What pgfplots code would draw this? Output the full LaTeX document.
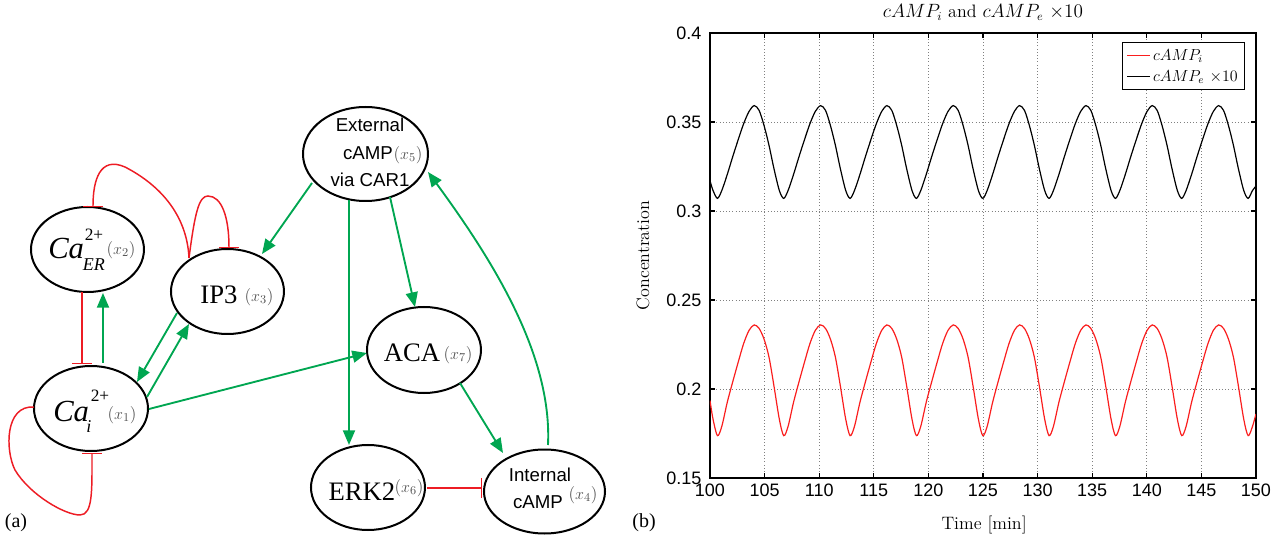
\documentclass[border=0pt]{standalone}
\usepackage{pgfplots}
\pgfplotsset{compat=1.18}
\usepackage{fontspec}
\usetikzlibrary{arrows.meta}
\newfontfamily\helv{Liberation Sans}
\newfontfamily\tms{Liberation Serif}
\definecolor{dgreen}{RGB}{0,166,81}
\definecolor{dred}{RGB}{237,28,36}
\definecolor{pred}{RGB}{250,30,30}
\definecolor{xgray}{RGB}{80,80,80}
\begin{document}
\begin{tikzpicture}[x=0.75pt,y=0.75pt]
% ---------------- (b) time series ----------------
\begin{axis}[
  name=ax, scale only axis,
  width=409.5pt, height=333.75pt,
  xmin=100, xmax=150, ymin=0.15, ymax=0.4,
  xtick={100,105,110,115,120,125,130,135,140,145,150},
  ytick={0.15,0.2,0.25,0.3,0.35,0.4},
  xticklabels={100,105,110,115,120,125,130,135,140,145,150},
  yticklabels={0.15,0.2,0.25,0.3,0.35,0.4},
  tick align=inside, tick pos=both, major tick length=4pt,
  every tick/.style={black, line width=0.8pt},
  axis line style={line width=1.1pt},
  grid=major, major grid style={dotted, gray, line width=0.7pt},
  ticklabel style={font=\helv\fontsize{13.5}{16}\selectfont},
  yticklabel style={xshift=-3pt},
  xticklabel style={yshift=-1pt},
  title={$cAMP_i$ and $cAMP_e$ $\times 10$},
  title style={at={(axis description cs:0.5,1.029)}, anchor=center, yshift=0pt, inner sep=0pt, font=\fontsize{13.5}{16}\selectfont},
  xlabel={Time [min]},
  xlabel style={at={(axis description cs:0.502,-0.1056)}, anchor=center, inner sep=0pt, font=\fontsize{13.5}{16}\selectfont},
  ylabel={Concentration},
  ylabel style={at={(axis description cs:-0.1227,0.5)}, anchor=center, inner sep=0pt, font=\fontsize{13.5}{16}\selectfont},
  legend style={at={(axis description cs:0.98,0.98)}, anchor=north east, draw=black, line width=1pt, font=\fontsize{12}{14}\selectfont, row sep=2pt, inner sep=3pt},
  legend image post style={line width=0.9pt},
  legend cell align=left,
]
\coordinate (R) at (rel axis cs:0,0);
\addplot[color=pred, line width=0.9pt, smooth] coordinates {
(100.00,0.1935) (100.28,0.1830) (100.68,0.1738) (101.08,0.1790) (101.58,0.1925) (102.08,0.2040) (102.58,0.2150) (103.08,0.2255) (103.58,0.2330)
(104.05,0.2360) (104.50,0.2340) (104.95,0.2280) (105.40,0.2180) (105.85,0.2020) (106.35,0.1830) (106.75,0.1738) (107.15,0.1790) (107.65,0.1925) (108.15,0.2040) (108.65,0.2150) (109.15,0.2255) (109.65,0.2330)
(110.13,0.2360) (110.58,0.2340) (111.03,0.2280) (111.48,0.2180) (111.93,0.2020) (112.43,0.1830) (112.83,0.1738) (113.23,0.1790) (113.73,0.1925) (114.23,0.2040) (114.73,0.2150) (115.23,0.2255) (115.73,0.2330)
(116.20,0.2360) (116.65,0.2340) (117.10,0.2280) (117.55,0.2180) (118.00,0.2020) (118.50,0.1830) (118.90,0.1738) (119.30,0.1790) (119.80,0.1925) (120.30,0.2040) (120.80,0.2150) (121.30,0.2255) (121.80,0.2330)
(122.28,0.2360) (122.73,0.2340) (123.18,0.2280) (123.63,0.2180) (124.08,0.2020) (124.58,0.1830) (124.98,0.1738) (125.38,0.1790) (125.88,0.1925) (126.38,0.2040) (126.88,0.2150) (127.38,0.2255) (127.88,0.2330)
(128.35,0.2360) (128.80,0.2340) (129.25,0.2280) (129.70,0.2180) (130.15,0.2020) (130.65,0.1830) (131.05,0.1738) (131.45,0.1790) (131.95,0.1925) (132.45,0.2040) (132.95,0.2150) (133.45,0.2255) (133.95,0.2330)
(134.43,0.2360) (134.88,0.2340) (135.33,0.2280) (135.78,0.2180) (136.23,0.2020) (136.73,0.1830) (137.13,0.1738) (137.53,0.1790) (138.03,0.1925) (138.53,0.2040) (139.03,0.2150) (139.53,0.2255) (140.03,0.2330)
(140.50,0.2360) (140.95,0.2340) (141.40,0.2280) (141.85,0.2180) (142.30,0.2020) (142.80,0.1830) (143.20,0.1738) (143.60,0.1790) (144.10,0.1925) (144.60,0.2040) (145.10,0.2150) (145.60,0.2255) (146.10,0.2330)
(146.58,0.2360) (147.03,0.2340) (147.48,0.2280) (147.93,0.2180) (148.38,0.2020) (148.88,0.1830) (149.28,0.1738) (149.68,0.1790) (150.00,0.1860)
};
\addlegendentry{$cAMP_i$}
\addplot[color=black, line width=0.9pt, smooth] coordinates {
(100.00,0.3170) (100.28,0.3115) (100.68,0.3071) (101.08,0.3115) (101.58,0.3205) (102.08,0.3305) (102.58,0.3400) (103.08,0.3490) (103.58,0.3560)
(104.05,0.3592) (104.50,0.3565) (104.95,0.3480) (105.40,0.3370) (105.85,0.3240) (106.35,0.3115) (106.75,0.3071) (107.15,0.3115) (107.65,0.3205) (108.15,0.3305) (108.65,0.3400) (109.15,0.3490) (109.65,0.3560)
(110.13,0.3592) (110.58,0.3565) (111.03,0.3480) (111.48,0.3370) (111.93,0.3240) (112.43,0.3115) (112.83,0.3071) (113.23,0.3115) (113.73,0.3205) (114.23,0.3305) (114.73,0.3400) (115.23,0.3490) (115.73,0.3560)
(116.20,0.3592) (116.65,0.3565) (117.10,0.3480) (117.55,0.3370) (118.00,0.3240) (118.50,0.3115) (118.90,0.3071) (119.30,0.3115) (119.80,0.3205) (120.30,0.3305) (120.80,0.3400) (121.30,0.3490) (121.80,0.3560)
(122.28,0.3592) (122.73,0.3565) (123.18,0.3480) (123.63,0.3370) (124.08,0.3240) (124.58,0.3115) (124.98,0.3071) (125.38,0.3115) (125.88,0.3205) (126.38,0.3305) (126.88,0.3400) (127.38,0.3490) (127.88,0.3560)
(128.35,0.3592) (128.80,0.3565) (129.25,0.3480) (129.70,0.3370) (130.15,0.3240) (130.65,0.3115) (131.05,0.3071) (131.45,0.3115) (131.95,0.3205) (132.45,0.3305) (132.95,0.3400) (133.45,0.3490) (133.95,0.3560)
(134.43,0.3592) (134.88,0.3565) (135.33,0.3480) (135.78,0.3370) (136.23,0.3240) (136.73,0.3115) (137.13,0.3071) (137.53,0.3115) (138.03,0.3205) (138.53,0.3305) (139.03,0.3400) (139.53,0.3490) (140.03,0.3560)
(140.50,0.3592) (140.95,0.3565) (141.40,0.3480) (141.85,0.3370) (142.30,0.3240) (142.80,0.3115) (143.20,0.3071) (143.60,0.3115) (144.10,0.3205) (144.60,0.3305) (145.10,0.3400) (145.60,0.3490) (146.10,0.3560)
(146.58,0.3592) (147.03,0.3565) (147.48,0.3480) (147.93,0.3370) (148.38,0.3240) (148.88,0.3115) (149.28,0.3071) (149.68,0.3115) (150.00,0.3140)
};
\addlegendentry{$cAMP_e$ $\times 10$}
\end{axis}
% ---------------- frame and (a) network diagram, placed relative to the axis ----------------
\begin{scope}[shift={(R)}, xshift=-532.5pt, yshift=-45.75pt]
\path (0,0) rectangle (1288,539);
\begin{scope}[y=-0.75pt, yshift=404.25pt,
  garr/.style={dgreen, line width=1.4pt, -{Triangle[length=11pt,width=9pt]}},
  rinh/.style={dred, line width=1.1pt, -{Bar[width=15pt,line width=1.1pt]}},
  ell/.style={line width=1.5pt, black},
  sx/.style={font=\helv\fontsize{14}{16}\selectfont, inner sep=0pt},
  sv/.style={font=\tms\fontsize{20}{22}\selectfont, inner sep=0pt},
  xn/.style={font=\fontsize{13}{14}\selectfont, text=xgray, inner sep=0pt}]
\draw[ell] (87.5,249.5) ellipse [x radius=56.5, y radius=42.5];
\draw[ell] (227.5,291.5) ellipse [x radius=56.5, y radius=42.5];
\draw[ell] (91,408.5) ellipse [x radius=57, y radius=42.5];
\draw[ell] (365.5,154) ellipse [x radius=62.5, y radius=47];
\draw[ell] (424,350) ellipse [x radius=57, y radius=43];
\draw[ell] (368,487.5) ellipse [x radius=57, y radius=42.5];
\draw[ell] (544.5,491.5) ellipse [x radius=60.5, y radius=42];
% edges
\draw[garr] (103,363) -- (103,293);
\draw[rinh] (82,292) -- (82,364);
\draw[garr] (177,313) -- (137,382);
\draw[garr] (147,397) -- (189,324);
\draw[rinh] (189,258) .. controls (195,212) and (199,196) .. (208,196) .. controls (222,196) and (229,218) .. (229,248);
\draw[rinh] (189,258) .. controls (187,215) and (160,185) .. (125,167) .. controls (100,156) and (93,180) .. (93,207);
\draw[rinh] (34,407) .. controls (5,405) and (5,450) .. (15,470) .. controls (30,495) and (65,515) .. (80,515) .. controls (93,515) and (92,490) .. (92,453);
\draw[garr] (149,409) -- (367,353);
\draw[garr] (312,183) -- (262,254);
\draw[garr] (349,200) -- (349,445);
\draw[garr] (390,197) -- (415,307);
\draw[garr] (460,383) -- (503,453);
\draw[garr] (548,445) .. controls (552,360) and (500,270) .. (428,172);
\draw[rinh] (427,488) -- (482,488);
% labels
\node[sx] at (370,125) {External};
\node[sx] at (368,153) {cAMP};
\node[xn] at (408,155) {($x_5$)};
\node[sx] at (370,180) {via CAR1};
\node[sv] at (219,295) {IP3};
\node[xn] at (259,297) {($x_3$)};
\node[anchor=base west, inner sep=0pt, font=\tms\itshape\fontsize{23}{25}\selectfont] at (48,259) {Ca};
\node[inner sep=0pt, font=\tms\fontsize{13}{14}\selectfont] at (94,235) {2+};
\node[inner sep=0pt, font=\tms\itshape\fontsize{13.5}{14}\selectfont] at (94,265) {ER};
\node[xn] at (121,250) {($x_2$)};
\node[anchor=base west, inner sep=0pt, font=\tms\itshape\fontsize{23}{25}\selectfont] at (53,422) {Ca};
\node[inner sep=0pt, font=\tms\fontsize{13}{14}\selectfont] at (100,396) {2+};
\node[inner sep=0pt, font=\tms\itshape\fontsize{13.5}{14}\selectfont] at (89,427) {i};
\node[xn] at (122,415) {($x_1$)};
\node[sv] at (412,353) {ACA};
\node[xn] at (458,355) {($x_7$)};
\node[sv] at (362,492) {ERK2};
\node[xn] at (409,488) {($x_6$)};
\node[sx] at (540,475) {Internal};
\node[sx] at (538,502) {cAMP};
\node[xn] at (583,495) {($x_4$)};
\node[font=\tms\fontsize{15}{17}\selectfont, inner sep=0pt] at (16,523) {(a)};
\node[font=\tms\fontsize{15}{17}\selectfont, inner sep=0pt] at (644,523) {(b)};
\end{scope}
\end{scope}
\end{tikzpicture}
\end{document}
